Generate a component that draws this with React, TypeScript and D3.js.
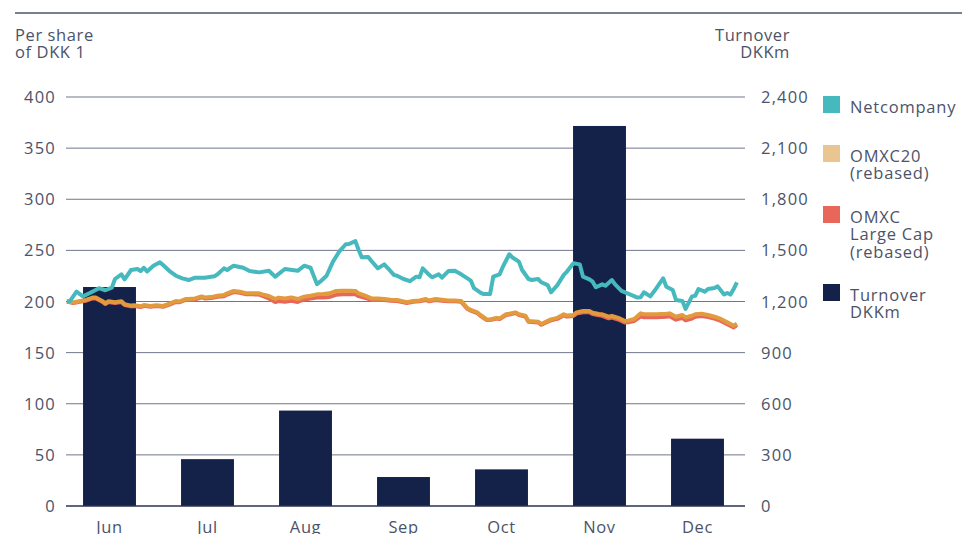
import React from "react";
import * as d3 from "d3";

// months shown on the x axis and monthly turnover (DKKm, right axis)
const months = ["Jun", "Jul", "Aug", "Sep", "Oct", "Nov", "Dec"];
const turnover = [1285, 275, 560, 170, 215, 2230, 395];

const leftTicks = [0, 50, 100, 150, 200, 250, 300, 350, 400];
const rightTicks = [0, 300, 600, 900, 1200, 1500, 1800, 2100, 2400];

// share price per share of DKK 1 (2018, month-day)
const netcompany: [string, number][] = [
  ["06-03", 200], ["06-04", 200.5], ["06-06", 209.6], ["06-08", 205], ["06-10", 208], ["06-13", 213],
  ["06-15", 211], ["06-17", 213.5], ["06-18", 222], ["06-20", 226.6], ["06-21", 221.7], ["06-23", 230.8],
  ["06-25", 231.8], ["06-26", 229.8], ["06-27", 233], ["06-28", 229.3], ["06-30", 235], ["07-02", 238.3],
  ["07-03", 235.7], ["07-05", 229.8], ["07-07", 225.2], ["07-09", 222.6], ["07-11", 221], ["07-13", 223.3],
  ["07-16", 223.3], ["07-19", 224.6], ["07-20", 226.6], ["07-22", 232.4], ["07-23", 230.8], ["07-25", 235],
  ["07-28", 233], ["07-30", 229.8], ["08-02", 228.5], ["08-05", 230], ["08-07", 224.3], ["08-10", 231.8],
  ["08-14", 230], ["08-16", 235], ["08-18", 233], ["08-20", 217], ["08-21", 219.4], ["08-23", 225.2],
  ["08-25", 239], ["08-27", 249], ["08-29", 256], ["08-30", 256.2], ["09-01", 259], ["09-02", 250.4],
  ["09-03", 243.2], ["09-05", 243.5], ["09-06", 239.6], ["09-08", 232.4], ["09-10", 236.3], ["09-11", 233],
  ["09-13", 226], ["09-14", 225.2], ["09-16", 222], ["09-18", 220], ["09-20", 224.3], ["09-21", 223.7],
  ["09-22", 232.4], ["09-24", 226], ["09-25", 223.7], ["09-27", 226.6], ["09-28", 223.3], ["09-30", 229.8],
  ["10-02", 230], ["10-04", 226.6], ["10-07", 220.4], ["10-08", 213], ["10-10", 208.6], ["10-11", 207.3],
  ["10-13", 207.3], ["10-14", 224.3], ["10-16", 226.6], ["10-17", 234], ["10-19", 246.2], ["10-20", 243],
  ["10-22", 239], ["10-23", 230.8], ["10-25", 222], ["10-26", 221], ["10-28", 222], ["10-29", 218.8],
  ["10-31", 216], ["11-01", 209], ["11-03", 216], ["11-05", 226], ["11-06", 229.3], ["11-08", 237.4],
  ["11-10", 236.3], ["11-11", 224.3], ["11-13", 221.7], ["11-14", 219.4], ["11-15", 213.9], ["11-17", 216.8],
  ["11-18", 215.4], ["11-20", 221], ["11-21", 216.8], ["11-23", 210.3], ["11-26", 206.4], ["11-28", 203.8],
  ["11-29", 204.2], ["11-30", 209], ["12-02", 205], ["12-04", 213.5], ["12-06", 222.7], ["12-07", 214.5],
  ["12-09", 211.2], ["12-10", 201.5], ["12-12", 200.5], ["12-13", 192.7], ["12-15", 205], ["12-16", 205.6],
  ["12-17", 212.2], ["12-19", 209.6], ["12-20", 212.2], ["12-22", 213.2], ["12-23", 214.8], ["12-25", 206.8],
  ["12-26", 208.4], ["12-27", 206.8], ["12-28", 212.2], ["12-29", 218.8],
];

const omxc20: [string, number][] = [
  ["06-03", 200], ["06-05", 199], ["06-07", 200.5], ["06-09", 201.5], ["06-11", 203.8], ["06-12", 203.8],
  ["06-14", 200.5], ["06-15", 198.3], ["06-16", 200.3], ["06-18", 199.3], ["06-20", 200.3], ["06-21", 197.3],
  ["06-23", 196], ["06-24", 196.3], ["06-26", 195.3], ["06-27", 196.6], ["06-29", 195.6], ["07-01", 196.3],
  ["07-03", 195.6], ["07-05", 197.9], ["07-07", 200.5], ["07-08", 200], ["07-10", 202.4], ["07-11", 202.4],
  ["07-13", 203], ["07-15", 205], ["07-16", 204], ["07-18", 204.3], ["07-20", 205.7], ["07-22", 206.3],
  ["07-23", 208], ["07-25", 210.3], ["07-27", 209.6], ["07-29", 208], ["07-31", 208], ["08-02", 208],
  ["08-03", 207], ["08-05", 205.4], ["08-07", 202.4], ["08-08", 203.8], ["08-10", 203], ["08-12", 204],
  ["08-14", 202.4], ["08-16", 204.7], ["08-18", 205.7], ["08-20", 207], ["08-22", 207.3], ["08-24", 208],
  ["08-26", 210.3], ["08-28", 210.6], ["08-30", 210.6], ["09-01", 210.3], ["09-02", 208], ["09-04", 205.7],
  ["09-06", 203], ["09-08", 203], ["09-10", 202.4], ["09-12", 201.7], ["09-14", 201.4], ["09-16", 200],
  ["09-17", 199.3], ["09-19", 200.5], ["09-21", 201], ["09-23", 202.4], ["09-24", 201], ["09-26", 202.4],
  ["09-28", 201.7], ["09-30", 201], ["10-02", 201], ["10-04", 200.5], ["10-06", 193.3], ["10-07", 191.7],
  ["10-09", 189.4], ["10-10", 186.8], ["10-12", 182.5], ["10-13", 182.5], ["10-15", 184], ["10-16", 183.5],
  ["10-18", 187.5], ["10-19", 188], ["10-21", 189.4], ["10-22", 187.5], ["10-24", 186.2], ["10-25", 181],
  ["10-28", 180.3], ["10-29", 178], ["10-31", 181.1], ["11-01", 182.5], ["11-03", 184], ["11-05", 187.5],
  ["11-06", 186.2], ["11-08", 186.8], ["11-09", 189.4], ["11-11", 190.7], ["11-13", 190.7], ["11-14", 189],
  ["11-16", 187.8], ["11-17", 187.5], ["11-19", 185.1], ["11-20", 185.8], ["11-22", 184], ["11-24", 181],
  ["11-25", 181.3], ["11-27", 182.9], ["11-29", 188.4], ["11-30", 187.5], ["12-02", 187.5], ["12-04", 187.5],
  ["12-07", 188], ["12-08", 188.4], ["12-10", 185.1], ["12-12", 186.8], ["12-13", 184.4], ["12-15", 186.1],
  ["12-16", 187.5], ["12-18", 188], ["12-20", 186.8], ["12-22", 185.1], ["12-24", 182.9], ["12-26", 179.6],
  ["12-28", 176.3], ["12-29", 178.4],
];

const largeCap: [string, number][] = [
  ["06-03", 200], ["06-05", 198.5], ["06-07", 199.8], ["06-09", 200.8], ["06-11", 203], ["06-12", 203],
  ["06-14", 199.8], ["06-15", 197.5], ["06-16", 199.5], ["06-18", 198.5], ["06-20", 199.5], ["06-21", 196.5],
  ["06-23", 195.2], ["06-24", 195.5], ["06-26", 194.5], ["06-27", 195.8], ["06-29", 194.8], ["07-01", 195.5],
  ["07-03", 194.8], ["07-05", 197], ["07-07", 199.6], ["07-08", 199.2], ["07-10", 201.5], ["07-11", 201.5],
  ["07-13", 202], ["07-15", 204], ["07-16", 203], ["07-18", 203.3], ["07-20", 204.6], ["07-22", 205.2],
  ["07-23", 206.8], ["07-25", 209.2], ["07-27", 208.5], ["07-29", 207], ["07-31", 207], ["08-02", 206.8],
  ["08-03", 205.5], ["08-05", 203], ["08-07", 199.5], ["08-08", 200.5], ["08-10", 199.8], ["08-12", 200.8],
  ["08-14", 199.5], ["08-16", 202], ["08-18", 203], ["08-20", 204], ["08-22", 204], ["08-24", 204.5],
  ["08-26", 206.5], ["08-28", 207], ["08-30", 207.2], ["09-01", 207], ["09-02", 205.2], ["09-04", 203.5],
  ["09-06", 201.5], ["09-08", 201.8], ["09-10", 201.4], ["09-12", 200.8], ["09-14", 200.5], ["09-16", 199.2],
  ["09-17", 198.5], ["09-19", 199.7], ["09-21", 200.2], ["09-23", 201.5], ["09-24", 200.2], ["09-26", 201.5],
  ["09-28", 200.8], ["09-30", 200.2], ["10-02", 200.2], ["10-04", 199.7], ["10-06", 192.6], ["10-07", 191],
  ["10-09", 188.7], ["10-10", 186], ["10-12", 181.8], ["10-13", 181.8], ["10-15", 183.3], ["10-16", 182.8],
  ["10-18", 186.8], ["10-19", 187.2], ["10-21", 188.6], ["10-22", 186.7], ["10-24", 185.4], ["10-25", 180.2],
  ["10-28", 179.5], ["10-29", 177.2], ["10-31", 180.3], ["11-01", 181.6], ["11-03", 183], ["11-05", 186.5],
  ["11-06", 185.2], ["11-08", 185.8], ["11-09", 188.2], ["11-11", 189.5], ["11-13", 189.5], ["11-14", 187.8],
  ["11-16", 186.5], ["11-17", 186], ["11-19", 183.6], ["11-20", 184.2], ["11-22", 182.4], ["11-24", 179.4],
  ["11-25", 179.6], ["11-27", 181], ["11-29", 185.5], ["11-30", 184.5], ["12-02", 184.5], ["12-04", 184.6],
  ["12-07", 185], ["12-08", 185.5], ["12-10", 182.2], ["12-12", 184], ["12-13", 181.6], ["12-15", 183.4],
  ["12-16", 185], ["12-18", 185.8], ["12-20", 184.8], ["12-22", 183.2], ["12-24", 181], ["12-26", 177.8],
  ["12-28", 174.6], ["12-29", 176.8],
];

const legendLabels = [["Netcompany"], ["OMXC20", "(rebased)"], ["OMXC", "Large Cap", "(rebased)"], ["Turnover", "DKKm"]];
const legendColors = ["#45b9bd", "#e9c591", "#e8675a", "#14224a"];

const font = "'Open Sans', sans-serif";
const textColor = "#4c5369";
const gridColor = "#6f778b";

const parseDay = d3.timeParse("%Y-%m-%d");
const toDate = (s: string) => parseDay("2018-" + s) as Date;

export default function App() {
  const left = 60.5, right = 746.5, top = 97, bottom = 506;

  const x = d3.scaleBand().domain(months).range([left, right]).paddingInner(0.46).paddingOuter(0.23);
  const xTime = d3.scaleTime().domain([new Date(2018, 5, 1), new Date(2019, 0, 1)]).range([left, right]);
  const yLeft = d3.scaleLinear().domain([0, 400]).range([bottom, top]);
  const yRight = d3.scaleLinear().domain([0, 2400]).range([bottom, top]);

  const line = d3.line<[string, number]>()
    .x(d => xTime(toDate(d[0])))
    .y(d => yLeft(d[1]));

  const legendTops = [96, 145, 206, 284];

  return (
    <svg width={962} height={534} style={{ position: "absolute", left: 0, top: 0, fontFamily: font }}>
      <rect width={962} height={534} fill="#fff" />
      {/* top rule */}
      <line x1={15} x2={962} y1={13} y2={13} stroke="#4a5570" strokeWidth={1.5} />

      {/* axis titles */}
      <text x={15} y={41} fontSize={16.5} fill={textColor} letterSpacing={0.6}>
        <tspan x={15}>Per share</tspan>
        <tspan x={15} dy={17}>of DKK 1</tspan>
      </text>
      <text x={790} y={41} fontSize={16.5} fill={textColor} textAnchor="end" letterSpacing={0.6}>
        <tspan x={790}>Turnover</tspan>
        <tspan x={790} dy={17}>DKKm</tspan>
      </text>

      {/* grid + left ticks */}
      {leftTicks.map(t => (
        <g key={t}>
          {t > 0 && <line x1={66} x2={745} y1={yLeft(t)} y2={yLeft(t)} stroke={gridColor} strokeWidth={1} />}
          <text x={56} y={yLeft(t) + 6} textAnchor="end" fontSize={16.5} fill={textColor} letterSpacing={1.2}>{t}</text>
        </g>
      ))}
      {rightTicks.map(t => (
        <text key={t} x={761} y={yRight(t) + 6} fontSize={16.5} fill={textColor} letterSpacing={1.2}>
          {d3.format(",")(t)}
        </text>
      ))}

      {/* turnover bars */}
      {months.map((m, i) => (
        <rect key={m} x={x(m)} y={yRight(turnover[i])} width={x.bandwidth()}
          height={yRight(0) - yRight(turnover[i])} fill="#14224a" />
      ))}
      <line x1={66} x2={745} y1={bottom} y2={bottom} stroke="#2b3452" strokeWidth={1.5} />

      {/* month labels */}
      {months.map(m => (
        <text key={m} x={(x(m) as number) + x.bandwidth() / 2} y={533} textAnchor="middle"
          fontSize={16.5} fill={textColor} letterSpacing={0.6}>{m}</text>
      ))}

      {/* index and share lines */}
      <path d={line(largeCap) as string} fill="none" stroke="#e8675a" strokeWidth={4} strokeLinejoin="round" />
      <path d={line(omxc20) as string} fill="none" stroke="#e29b3c" strokeWidth={4} strokeLinejoin="round" />
      <path d={line(netcompany) as string} fill="none" stroke="#45b9bd" strokeWidth={4} strokeLinejoin="round" />

      {/* legend */}
      {legendLabels.map((lines, i) => (
        <g key={i}>
          <rect x={823} y={legendTops[i]} width={17} height={17} fill={legendColors[i]} />
          <text x={850} y={legendTops[i] + 16.5} fontSize={16.5} fill={textColor} letterSpacing={0.8}>
            {lines.map((l, j) => (
              <tspan key={j} x={850} dy={j === 0 ? 0 : 17.5}>{l}</tspan>
            ))}
          </text>
        </g>
      ))}
    </svg>
  );
}
